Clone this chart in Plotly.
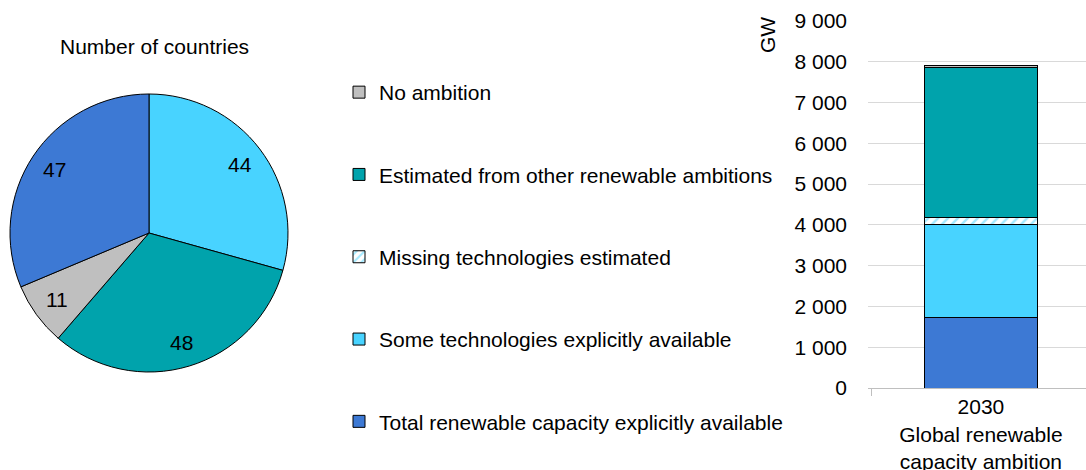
import math
import plotly.graph_objects as go

W, H = 1086, 470
FONT = "Liberation Sans, Arial, sans-serif"
FS = 21

# Pie data (clockwise from 12 o'clock)
pie_labels = ["Some technologies explicitly available",
              "Estimated from other renewable ambitions",
              "No ambition",
              "Total renewable capacity explicitly available"]
pie_values = [44, 48, 11, 47]
pie_colors = ["#48D3FF", "#00A3AC", "#BFBFBF", "#3D79D4"]

# Stacked bar data (bottom to top), GW
bar_category = ["2030<br>Global renewable<br>capacity ambition"]
series_names = ["Total renewable capacity explicitly available",
                "Some technologies explicitly available",
                "Missing technologies estimated",
                "Estimated from other renewable ambitions",
                "No ambition"]
series_values = [1720, 2300, 150, 3680, 50]
series_colors = ["#3D79D4", "#48D3FF", "#FFFFFF", "#00A3AC", "#BFBFBF"]
y_ticks = [0, 1000, 2000, 3000, 4000, 5000, 6000, 7000, 8000, 9000]


def px_x(p):
    return p / W


def px_y(p):
    return 1 - p / H


# pie geometry (pixels)
PIE_L, PIE_R, PIE_T, PIE_B = 10, 288, 94, 372
cx, cy = (PIE_L + PIE_R) / 2, (PIE_T + PIE_B) / 2
rad = (PIE_R - PIE_L) / 2

fig = go.Figure()

fig.add_trace(go.Pie(
    labels=pie_labels, values=pie_values, sort=False, direction="clockwise",
    rotation=0, marker=dict(colors=pie_colors, line=dict(color="black", width=1)),
    textinfo="none",
    domain=dict(x=[px_x(PIE_L), px_x(PIE_R)], y=[px_y(PIE_B), px_y(PIE_T)]),
    showlegend=False, hoverinfo="label+value",
))

# pie value labels placed at 0.82 radius along each slice's mid-angle
annotations = []
total = sum(pie_values)
cum = 0
for v in pie_values:
    mid = (cum + v / 2) / total * 2 * math.pi
    cum += v
    lx = cx + 0.82 * rad * math.sin(mid)
    ly = cy - 0.82 * rad * math.cos(mid)
    annotations.append(dict(text=str(v), x=px_x(lx), y=px_y(ly), xref="paper",
                            yref="paper", showarrow=False, xanchor="center",
                            yanchor="middle", font=dict(size=FS, color="black")))

ranks = [5, 4, 3, 2, 1]
for i, (name, val, col) in enumerate(zip(series_names, series_values, series_colors)):
    marker = dict(color=col, line=dict(color="black", width=1))
    if name == "Missing technologies estimated":
        marker["pattern"] = dict(shape="/", fgcolor="#48D3FF", bgcolor="white",
                                 size=7, solidity=0.35)
    fig.add_trace(go.Bar(
        x=bar_category, y=[val], name=name, marker=marker, width=0.52,
        legendgroup=f"g{i}", legendrank=ranks[i], xaxis="x", yaxis="y",
    ))

annotations += [
    dict(text="Number of countries", x=px_x(154), y=px_y(46), xref="paper",
         yref="paper", showarrow=False, xanchor="center", yanchor="middle",
         font=dict(size=FS)),
    dict(text="GW", x=px_x(767), y=px_y(35), xref="paper", yref="paper",
         showarrow=False, textangle=-90, xanchor="center", yanchor="middle",
         font=dict(size=FS)),
]

fig.update_layout(
    width=W, height=H,
    margin=dict(l=0, r=0, t=0, b=0),
    paper_bgcolor="white", plot_bgcolor="white",
    font=dict(family=FONT, size=FS, color="black"),
    separators=". ",
    barmode="stack",
    xaxis=dict(domain=[px_x(868), 1.0], range=[-0.518, 0.482], showline=True,
               linecolor="#BFBFBF", linewidth=1, ticks="outside",
               tickson="boundaries", ticklen=7, tickcolor="#BFBFBF",
               showgrid=False, automargin=False, tickfont=dict(size=FS)),
    yaxis=dict(domain=[px_y(388), px_y(21)], range=[0, 9000], tickvals=y_ticks,
               tickformat=",d", showgrid=True, gridcolor="#D9D9D9", gridwidth=1,
               zeroline=False, showline=False, ticklabelstandoff=20,
               automargin=False, tickfont=dict(size=FS)),
    legend=dict(x=px_x(339), y=px_y(72), xanchor="left", yanchor="top",
                traceorder="grouped", tracegroupgap=52,
                font=dict(size=FS), bgcolor="rgba(0,0,0,0)",
                itemclick=False, itemdoubleclick=False),
    annotations=annotations,
)

fig.write_html("out.html", config={"displayModeBar": False},
               post_script="document.body.style.margin='0';")
